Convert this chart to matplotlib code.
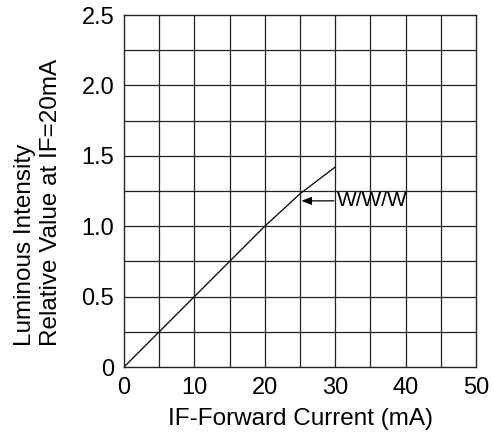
import matplotlib.pyplot as plt

plt.rcParams['font.family'] = ['Liberation Sans', 'DejaVu Sans']

# Forward current (mA) vs relative luminous intensity
current = [0, 5, 10, 15, 20, 25, 30]
intensity = [0, 0.25, 0.5, 0.75, 1.0, 1.23, 1.42]

x_ticks = [0, 10, 20, 30, 40, 50]
y_ticks = [0, 0.5, 1.0, 1.5, 2.0, 2.5]
y_tick_labels = ['0', '0.5', '1.0', '1.5', '2.0', '2.5']

fig = plt.figure(figsize=(4.94, 4.32), dpi=100)
ax = fig.add_axes([124 / 494, 1 - 367 / 432, 352 / 494, 352 / 432])

# grid every 5 mA / 0.25
for gx in range(5, 50, 5):
    ax.axvline(gx, color='#222222', lw=0.9, zorder=1)
for i in range(1, 10):
    ax.axhline(i * 0.25, color='#222222', lw=0.9, zorder=1)

ax.plot(current, intensity, color='black', lw=0.9, zorder=2)

ax.annotate('W/W/W', xy=(25.2, 1.18), xytext=(30.2, 1.18),
            fontsize=15, va='center', ha='left',
            arrowprops=dict(arrowstyle='-|>,head_length=0.5,head_width=0.2',
                            color='black', lw=0.9,
                            mutation_scale=12, shrinkA=0, shrinkB=0))

ax.set_xlim(0, 50)
ax.set_ylim(0, 2.5)
ax.set_xticks(x_ticks)
ax.set_yticks(y_ticks)
ax.set_yticklabels(y_tick_labels)
ax.tick_params(length=0, labelsize=17)
ax.tick_params(axis='y', pad=7)
ax.tick_params(axis='x', pad=7)
for s in ax.spines.values():
    s.set_color('#222222')
    s.set_linewidth(1.0)

ax.set_xlabel('IF-Forward Current (mA)', fontsize=17.5, labelpad=7)
fig.text(38 / 494, 1 - 202 / 432, 'Luminous Intensity\nRelative Value at IF=20mA',
         rotation=90, ha='center', va='center', multialignment='left',
         fontsize=17.5, linespacing=1.18)

fig.savefig('out.png', dpi=100)
